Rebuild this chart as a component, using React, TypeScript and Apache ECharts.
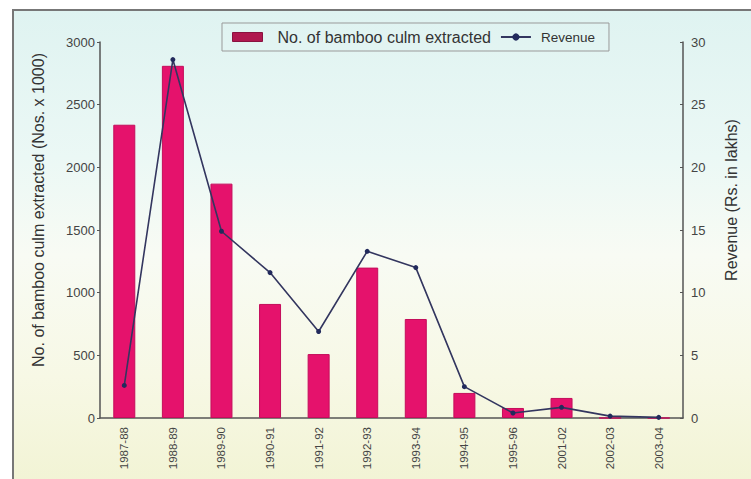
import React, { useEffect, useRef } from "react";
import * as echarts from "echarts";

// Financial years on the category axis
const years = [
  "1987-88", "1988-89", "1989-90", "1990-91", "1991-92", "1992-93",
  "1993-94", "1994-95", "1995-96", "2001-02", "2002-03", "2003-04",
];

// Bamboo culms extracted (Nos. x 1000)
const culmsExtracted = [2340, 2810, 1870, 910, 510, 1200, 790, 200, 80, 160, 0, 0];

// Revenue (Rs. in lakhs)
const revenueLakhs = [2.6, 28.6, 14.9, 11.6, 6.9, 13.3, 12.0, 2.5, 0.4, 0.85, 0.15, 0.05];

const leftTicks = { min: 0, max: 3000, interval: 500 };
const rightTicks = { min: 0, max: 30, interval: 5 };

const BAR_NAME = "No. of bamboo culm extracted";
const LINE_NAME = "Revenue";

const FONT = "'Liberation Sans', Arial, sans-serif";
const AXIS_COLOR = "#555";
const LABEL_COLOR = "#444";

export default function App() {
  const ref = useRef<HTMLDivElement>(null);

  useEffect(() => {
    if (!ref.current) return;
    const chart = echarts.init(ref.current, undefined, { renderer: "svg" });

    chart.setOption({
      animation: false,
      backgroundColor: "#ffffff",
      textStyle: { fontFamily: FONT },
      graphic: [
        {
          type: "rect",
          z: -10,
          silent: true,
          shape: { x: 13, y: 10, width: 760, height: 490 },
          style: {
            fill: new echarts.graphic.LinearGradient(0, 0, 0, 1, [
              { offset: 0, color: "#dff3f1" },
              { offset: 0.3, color: "#ebf8f5" },
              { offset: 0.5, color: "#f8fbf4" },
              { offset: 0.75, color: "#f7f8e5" },
              { offset: 1, color: "#f1f3d2" },
            ]),
            stroke: "#777",
            lineWidth: 2,
          },
        },
      ],
      legend: {
        left: 222,
        top: 23,
        padding: [6, 14, 6, 10],
        borderColor: "#999",
        borderWidth: 1,
        itemWidth: 30,
        itemHeight: 9,
        itemGap: 9,
        data: [
          {
            name: BAR_NAME,
            icon: "rect",
            itemStyle: { color: "#b0184f", borderColor: "#8a1240", borderWidth: 1 },
            textStyle: { fontSize: 16, color: "#333", padding: [0, 0, 0, 10] },
          },
          {
            name: LINE_NAME,
            textStyle: { fontSize: 13.5, color: "#333", padding: [0, 0, 0, 5] },
          },
        ],
      },
      grid: { left: 100, right: 68, top: 42, bottom: 61 },
      xAxis: {
        type: "category",
        data: years,
        boundaryGap: true,
        axisLine: { lineStyle: { color: AXIS_COLOR, width: 1.5 } },
        axisTick: { inside: true, length: 4, lineStyle: { color: AXIS_COLOR } },
        axisLabel: {
          rotate: 90,
          margin: 9,
          fontSize: 11.5,
          color: LABEL_COLOR,
          interval: 0,
        },
      },
      yAxis: [
        {
          type: "value",
          position: "left",
          ...leftTicks,
          name: "No. of bamboo culm extracted (Nos. x 1000)",
          nameLocation: "middle",
          nameGap: 54,
          nameTextStyle: { fontSize: 16, color: "#333", padding: [0, 0, 0, 40] },
          axisLine: { show: true, lineStyle: { color: AXIS_COLOR, width: 1.5 } },
          axisTick: { show: true, length: 3, lineStyle: { color: AXIS_COLOR } },
          axisLabel: {
            margin: 5,
            fontSize: 13,
            color: LABEL_COLOR,
            formatter: (v: number) => String(v),
          },
          splitLine: { show: false },
        },
        {
          type: "value",
          position: "right",
          ...rightTicks,
          name: "Revenue (Rs. in lakhs)",
          nameLocation: "middle",
          nameRotate: 90,
          nameGap: 40,
          nameTextStyle: { fontSize: 16, color: "#333", padding: [0, 0, 0, 60] },
          axisLine: { show: true, lineStyle: { color: AXIS_COLOR, width: 1.5 } },
          axisTick: { show: true, inside: true, length: 3, lineStyle: { color: AXIS_COLOR } },
          axisLabel: {
            margin: 8,
            fontSize: 13,
            color: LABEL_COLOR,
            formatter: (v: number) => String(v),
          },
          splitLine: { show: false },
        },
      ],
      series: [
        {
          name: BAR_NAME,
          type: "bar",
          yAxisIndex: 0,
          barWidth: 22,
          data: culmsExtracted,
          itemStyle: { color: "#e5126c", borderColor: "#c40d5b", borderWidth: 1 },
        },
        {
          name: LINE_NAME,
          type: "line",
          yAxisIndex: 1,
          data: revenueLakhs,
          symbol: "circle",
          symbolSize: 5,
          lineStyle: { color: "#33365f", width: 1.6 },
          itemStyle: { color: "#222a5c" },
        },
      ],
    });

    return () => chart.dispose();
  }, []);

  return (
    <div
      ref={ref}
      style={{ position: "fixed", left: 0, top: 0, width: 751, height: 479 }}
    />
  );
}
